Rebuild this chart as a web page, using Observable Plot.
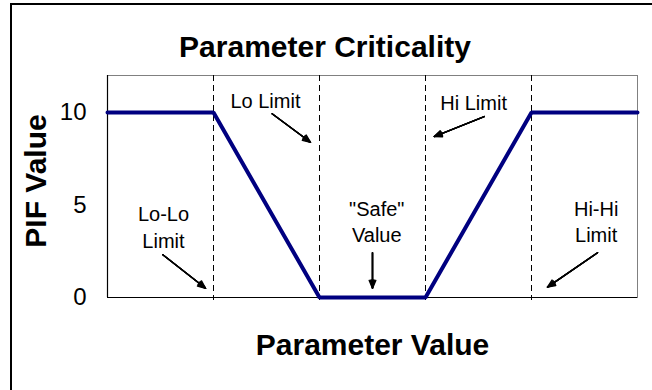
<!DOCTYPE html>
<html>
<head>
<meta charset="utf-8">
<script src="https://cdn.jsdelivr.net/npm/d3@7"></script>
<script src="https://cdn.jsdelivr.net/npm/@observablehq/plot@0.6"></script>
<style>
  html, body { margin: 0; padding: 0; background: #fff; overflow: hidden; width: 652px; height: 390px; }
  #wrap { position: relative; width: 652px; height: 390px; overflow: hidden; }
  #border { position: absolute; left: 10px; top: 3px; width: 700px; height: 450px; border: 2px solid #000; box-sizing: border-box; }
  #chart { position: absolute; left: 0; top: 0; }
  svg { font-family: "Liberation Sans", Arial, sans-serif; }
</style>
</head>
<body>
<div id="wrap"><div id="border"></div><div id="chart"></div></div>
<script>
// Curve data
const paramX = [0, 1, 2, 3, 4, 5];
const pifValues = [10, 10, 0, 0, 10, 10];
// Limit boundaries (dashed lines)
const limitX = [1, 2, 3, 4];
// Y tick labels
const yTicks = [0, 5, 10];
// Annotations
const annLabels = ["Lo-Lo\nLimit", "Lo Limit", "\"Safe\"\nValue", "Hi Limit", "Hi-Hi\nLimit"];
const annX = [0.528, 1.49, 2.54, 3.454, 4.61];
const annY = [2.69, 10.25, 2.99, 10.11, 2.99];
// Annotation arrows
const arrX1 = [0.522, 1.553, 2.5, 3.554, 4.623];
const arrY1 = [2.31, 9.93, 2.42, 9.78, 2.42];
const arrX2 = [0.925, 1.915, 2.5, 3.082, 4.151];
const arrY2 = [0.50, 8.39, 0.50, 8.70, 0.56];

const curve = paramX.map((x, i) => ({x, y: pifValues[i]}));
const notes = annLabels.map((t, i) => ({t, x: annX[i], y: annY[i]}));
const arrows = arrX1.map((x1, i) => ({x1, y1: arrY1[i], x2: arrX2[i], y2: arrY2[i]}));

// layered arrow heads so the head reads as a filled triangle
const arrowLayers = [46, 32, 18, 6].map((angle) =>
  Plot.arrow(arrows, {x1: "x1", y1: "y1", x2: "x2", y2: "y2", stroke: "#000", strokeWidth: 1.4, headLength: 9, headAngle: angle})
);

const chart = Plot.plot({
  width: 652,
  height: 390,
  marginLeft: 107,
  marginRight: 15,
  marginTop: 75,
  marginBottom: 93,
  style: {background: "transparent", fontFamily: "'Liberation Sans', Arial, sans-serif", color: "#000"},
  x: {domain: [0, 5]},
  y: {domain: [0, 12]},
  marks: [
    Plot.frame({stroke: "#808080", strokeWidth: 1}),
    Plot.ruleX(limitX, {stroke: "#000", strokeWidth: 1, strokeDasharray: "6,4"}),
    Plot.ruleX([0], {stroke: "#000", strokeWidth: 1.2}),
    Plot.ruleY([0], {stroke: "#000", strokeWidth: 1.2}),
    Plot.axisX({ticks: limitX, tickSize: 3, tickFormat: () => "", label: null}),
    Plot.axisY({ticks: yTicks, tickSize: 0, tickPadding: 21, fontSize: 24, label: null}),
    Plot.line(curve, {x: "x", y: "y", stroke: "#000080", strokeWidth: 4, strokeLinejoin: "miter"}),
    ...arrowLayers,
    Plot.text(notes, {x: "x", y: "y", text: "t", fontSize: 20, lineAnchor: "bottom", lineHeight: 1.33, textAnchor: "middle", fill: "#000"}),
    Plot.text(["Parameter Criticality"], {frameAnchor: "top", dx: -47.5, dy: -18.3, lineAnchor: "bottom", fontSize: 30, fontWeight: "bold", fill: "#000"}),
    Plot.text(["Parameter Value"], {frameAnchor: "bottom", dy: 57, lineAnchor: "bottom", fontSize: 30, fontWeight: "bold", fill: "#000"}),
    Plot.text(["PIF Value"], {frameAnchor: "left", dx: -62, dy: -5.5, rotate: -90, lineAnchor: "bottom", textAnchor: "middle", fontSize: 30, fontWeight: "bold", fill: "#000"})
  ]
});
document.getElementById("chart").appendChild(chart);
</script>
</body>
</html>
